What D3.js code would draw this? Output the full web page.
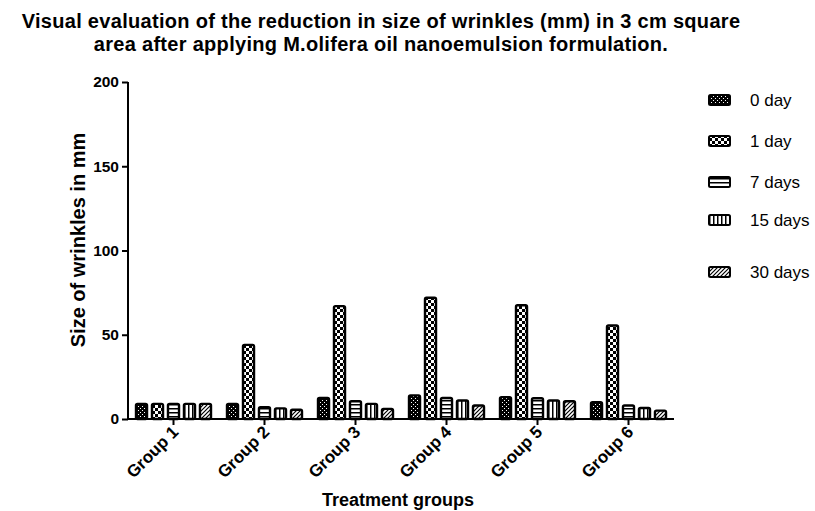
<!DOCTYPE html>
<html>
<head>
<meta charset="utf-8">
<script src="https://cdn.jsdelivr.net/npm/d3@7"></script>
<style>
  html, body { margin: 0; padding: 0; background: #fff; }
  svg { display: block; font-family: "Liberation Sans", Arial, sans-serif; }
</style>
</head>
<body>
<svg id="chart" width="815" height="511"></svg>
<script>
// ---- data ----
const groups = ["Group 1", "Group 2", "Group 3", "Group 4", "Group 5", "Group 6"];
const seriesNames = ["0 day", "1 day", "7 days", "15 days", "30 days"];
const day0  = [9, 9, 12.5, 14, 13, 10];
const day1  = [9, 44, 67, 72, 67.5, 55.5];
const day7  = [9, 7, 10.5, 12.5, 12.3, 8];
const day15 = [9, 6.3, 9, 11, 11, 6.5];
const day30 = [9, 5.5, 6, 8, 10.5, 5];
const yTicks = [0, 50, 100, 150, 200];
const titleLines = [
  "Visual evaluation of the reduction in size of wrinkles (mm) in 3 cm square",
  "area after applying M.olifera oil nanoemulsion formulation."
];
const yLabel = "Size of wrinkles in mm";
const xLabel = "Treatment groups";

const seriesValues = [day0, day1, day7, day15, day30];

const svg = d3.select("#chart");

// ---- patterns ----
const defs = svg.append("defs");
function pat(id, w, h, draw) {
  const p = defs.append("pattern").attr("id", id).attr("patternUnits", "userSpaceOnUse")
    .attr("width", w).attr("height", h);
  draw(p);
}
pat("p0", 4, 4, p => {
  p.append("rect").attr("width", 4).attr("height", 4).attr("fill", "#000");
  p.append("rect").attr("x", 0).attr("y", 0).attr("width", 1).attr("height", 1).attr("fill", "#fff");
  p.append("rect").attr("x", 2).attr("y", 2).attr("width", 1).attr("height", 1).attr("fill", "#fff");
});
pat("p1", 6, 6, p => {
  p.append("rect").attr("width", 6).attr("height", 6).attr("fill", "#000");
  p.append("rect").attr("x", 0).attr("y", 0).attr("width", 3).attr("height", 3).attr("fill", "#fff");
  p.append("rect").attr("x", 3).attr("y", 3).attr("width", 3).attr("height", 3).attr("fill", "#fff");
});
pat("p2", 4, 4, p => {
  p.append("rect").attr("width", 4).attr("height", 4).attr("fill", "#fff");
  p.append("rect").attr("x", 0).attr("y", 0).attr("width", 4).attr("height", 1.5).attr("fill", "#000");
});
pat("p3", 4, 4, p => {
  p.append("rect").attr("width", 4).attr("height", 4).attr("fill", "#fff");
  p.append("rect").attr("x", 0).attr("y", 0).attr("width", 1.5).attr("height", 4).attr("fill", "#000");
});
pat("p4", 4, 4, p => {
  p.append("rect").attr("width", 4).attr("height", 4).attr("fill", "#fff");
  p.append("path").attr("d", "M-1,1 L1,-1 M0,4 L4,0 M3,5 L5,3").attr("stroke", "#000").attr("stroke-width", 1.2);
});
const patIds = ["p0", "p1", "p2", "p3", "p4"];

// ---- scales ----
const x0 = d3.scaleBand().domain(groups).range([128, 674]).padding(0);
const x1 = d3.scaleBand().domain(seriesNames).range([8, 83]).paddingInner(0.31).paddingOuter(0);
const y = d3.scaleLinear().domain([0, 200]).range([419, 82]);

// ---- bars ----
const gGroups = svg.append("g").selectAll("g").data(groups).join("g")
  .attr("transform", d => `translate(${x0(d)},0)`);
gGroups.selectAll("rect")
  .data((g, gi) => seriesNames.map((s, si) => ({ s, si, v: seriesValues[si][gi] })))
  .join("rect")
  .attr("x", d => x1(d.s))
  .attr("y", d => y(d.v))
  .attr("width", x1.bandwidth())
  .attr("height", d => y(0) - y(d.v))
  .attr("rx", 1.5)
  .attr("fill", d => `url(#${patIds[d.si]})`)
  .attr("stroke", "#000")
  .attr("stroke-width", 2.4);

// ---- axes ----
const yAxis = d3.axisLeft(y).tickValues(yTicks).tickSize(6).tickPadding(3).tickFormat(d3.format("d"));
const gy = svg.append("g").attr("transform", "translate(128,0)").call(yAxis);
gy.select(".domain").attr("stroke-width", 2).attr("d", `M0,${y(200)}V${y(0)+1}`);
gy.selectAll(".tick line").attr("stroke-width", 2);
gy.selectAll(".tick text").attr("font-size", 15.5).attr("font-weight", "bold").attr("fill", "#000")
  .attr("font-family", "'Liberation Sans', Arial, sans-serif");

const xAxis = d3.axisBottom(x0).tickSize(6).tickSizeOuter(0);
const gx = svg.append("g").attr("transform", "translate(0,419)").call(xAxis);
gx.select(".domain").attr("stroke-width", 2).attr("d", "M127,0H674");
gx.selectAll(".tick line").attr("stroke-width", 2);
gx.selectAll(".tick text")
  .attr("font-size", 17).attr("font-weight", "bold").attr("fill", "#000")
  .attr("font-family", "'Liberation Sans', Arial, sans-serif")
  .attr("text-anchor", "end")
  .attr("dy", null).attr("y", 0)
  .attr("transform", "translate(6,14) rotate(-45)");

// ---- titles ----
const title = svg.append("text")
  .attr("text-anchor", "middle").attr("font-size", 20).attr("font-weight", "bold")
  .attr("letter-spacing", 0.3);
title.selectAll("tspan").data(titleLines).join("tspan")
  .attr("x", 381).attr("y", (d, i) => 28 + i * 23)
  .text(d => d);

svg.append("text")
  .attr("transform", "translate(85,240) rotate(-90)")
  .attr("text-anchor", "middle").attr("font-size", 20).attr("font-weight", "bold")
  .text(yLabel);

svg.append("text")
  .attr("x", 398).attr("y", 506)
  .attr("text-anchor", "middle").attr("font-size", 18).attr("font-weight", "bold")
  .text(xLabel);

// ---- legend ----
const legendY = [100, 141, 182, 220, 272];
const leg = svg.append("g").selectAll("g").data(seriesNames).join("g")
  .attr("transform", (d, i) => `translate(709,${legendY[i]})`);
leg.append("rect").attr("x", 0).attr("y", -5).attr("width", 21).attr("height", 10).attr("rx", 1.5)
  .attr("fill", (d, i) => `url(#${patIds[i]})`).attr("stroke", "#000").attr("stroke-width", 2);
leg.append("text").attr("x", 41).attr("y", 0).attr("dy", "0.35em")
  .attr("font-size", 17).text(d => d);
</script>
</body>
</html>
